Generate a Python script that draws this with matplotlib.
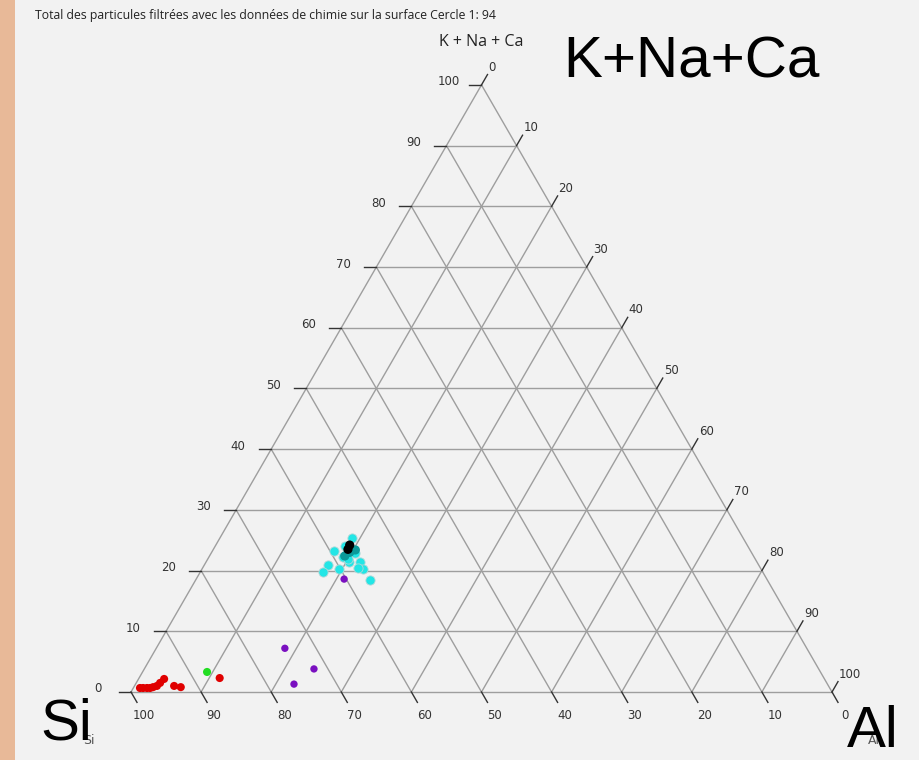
import numpy as np
import matplotlib.pyplot as plt
from matplotlib.patches import Rectangle

# compositions in percent: Al and K+Na+Ca (Si = rest)
red_al = [0.95, 1.4, 1.95, 2.4, 2.75, 3.2, 3.4, 3.65, 5.65, 6.7, 11.5]
red_k = [0.66, 0.66, 0.66, 0.66, 0.8, 1.0, 1.5, 2.15, 1.0, 0.8, 2.3]
green_al = [9.2]
green_k = [3.3]
purple_al = [18.35, 24.2, 22.6, 21.1]
purple_k = [7.2, 3.8, 1.3, 18.6]
cyan_al = [18.9, 17.4, 19.1, 20.4, 20.5, 19.4, 22.0, 23.0, 17.6, 17.5, 19.6, 24.9, 22.2, 18.5, 20.0]
cyan_k = [25.3, 23.2, 22.2, 21.4, 22.9, 22.9, 21.4, 20.2, 21.0, 19.7, 20.2, 18.4, 20.4, 24.0, 21.9]
teal_al = [19.7, 20.3, 19.3]
teal_k = [23.0, 23.4, 22.4]
black_al = [19.1, 19.2]
black_k = [24.2, 23.5]

ticks = np.arange(0, 101, 10)
title = "Total des particules filtrées avec les données de chimie sur la surface Cercle 1: 94"

H = np.sqrt(3) / 2
W, Hpx = 920, 760
x0, y0, side = 131, 692, 701  # triangle placement in pixels
u = 1.0 / side  # one pixel in data units


def tern(al, k):
    al = np.asarray(al, float) / 100
    k = np.asarray(k, float) / 100
    return al + 0.5 * k, H * k


fig = plt.figure(figsize=(W / 100, Hpx / 100), dpi=100, facecolor='#f2f2f2')
fig.patches.append(Rectangle((0, 0), 15 / W, 1, transform=fig.transFigure,
                             facecolor='#e8b998', edgecolor='none'))
ax = fig.add_axes([0, 0, 1, 1])
ax.set_facecolor('none')
ax.set_xlim(-x0 * u, (W - x0) * u)
ax.set_ylim(-(Hpx - y0) * u, y0 * u)
ax.axis('off')

gc = '#9e9e9e'
tc = '#333333'
tl = 12 * u
for t in ticks:
    f = t / 100
    # constant K (horizontal)
    ax.plot([0.5 * f, 1 - 0.5 * f], [H * f, H * f], color=gc, lw=1, zorder=1)
    # constant Al (parallel to left edge)
    ax.plot([f, f + 0.5 * (1 - f)], [0, H * (1 - f)], color=gc, lw=1, zorder=1)
    # constant Si (parallel to right edge)
    ax.plot([1 - f, 0.5 * (1 - f)], [0, H * (1 - f)], color=gc, lw=1, zorder=1)

    # left ticks: K value
    lx, ly = 0.5 * f, H * f
    ax.plot([lx - tl, lx], [ly, ly], color=tc, lw=1, zorder=2)
    ax.text(lx - tl - 21 * u, ly + 3 * u, str(t), ha='center', va='center',
            fontsize=8.5, color='#333333')

    # right ticks: Al value
    rx, ry = 1 - 0.5 * (1 - f), H * (1 - f)
    ex, ey = rx + 0.5 * tl, ry + H * tl
    ax.plot([rx, ex], [ry, ey], color=tc, lw=1, zorder=2)
    ax.text(ex + 1 * u, ey + 1 * u, str(t), ha='left', va='bottom',
            fontsize=8.5, color='#333333')

    # bottom ticks: Si value
    bx = 1 - f
    ex, ey = bx + 0.5 * tl, -H * tl
    ax.plot([bx, ex], [0, ey], color=tc, lw=1, zorder=2)
    ax.text(ex + 7 * u, ey - 13 * u, str(t), ha='center', va='center',
            fontsize=8.5, color='#333333')

groups = [
    (red_al, red_k, '#e00000', 'none', 34),
    (green_al, green_k, '#22dd22', 'none', 34),
    (purple_al, purple_k, '#7a10c0', 'none', 28),
    (cyan_al, cyan_k, '#22e6e6', '#b0d8d8', 44),
    (teal_al, teal_k, '#0b9a9a', 'none', 44),
    (black_al, black_k, '#000000', 'none', 44),
]
for i, (al, k, c, ec, s) in enumerate(groups):
    px, py = tern(al, k)
    ax.scatter(px, py, s=s, c=c, edgecolors=ec, linewidths=0.6, zorder=3 + i)

# texts
fig.text(35 / W, 1 - 15 / Hpx, title, ha='left', va='center', fontsize=8.8,
         color='#222222', family='Open Sans')
fig.text(481 / W, 1 - 42 / Hpx, 'K + Na + Ca', ha='center', va='center',
         fontsize=11.5, color='#222222', family='Open Sans')
fig.text(89 / W, 1 - 740 / Hpx, 'Si', ha='center', va='center', fontsize=9,
         color='#555555')
fig.text(874 / W, 1 - 740 / Hpx, 'Al', ha='center', va='center', fontsize=9,
         color='#555555')
fig.text(563 / W, 1 - 78 / Hpx, 'K+Na+Ca', ha='left', va='baseline',
         fontsize=42, family='Liberation Sans', color='black')
fig.text(40 / W, 1 - 740 / Hpx, 'Si', ha='left', va='baseline',
         fontsize=42, family='Liberation Sans', color='black')
fig.text(847 / W, 1 - 747 / Hpx, 'Al', ha='left', va='baseline',
         fontsize=42, family='Liberation Sans', color='black')

fig.savefig('out.png', dpi=100, facecolor=fig.get_facecolor())
